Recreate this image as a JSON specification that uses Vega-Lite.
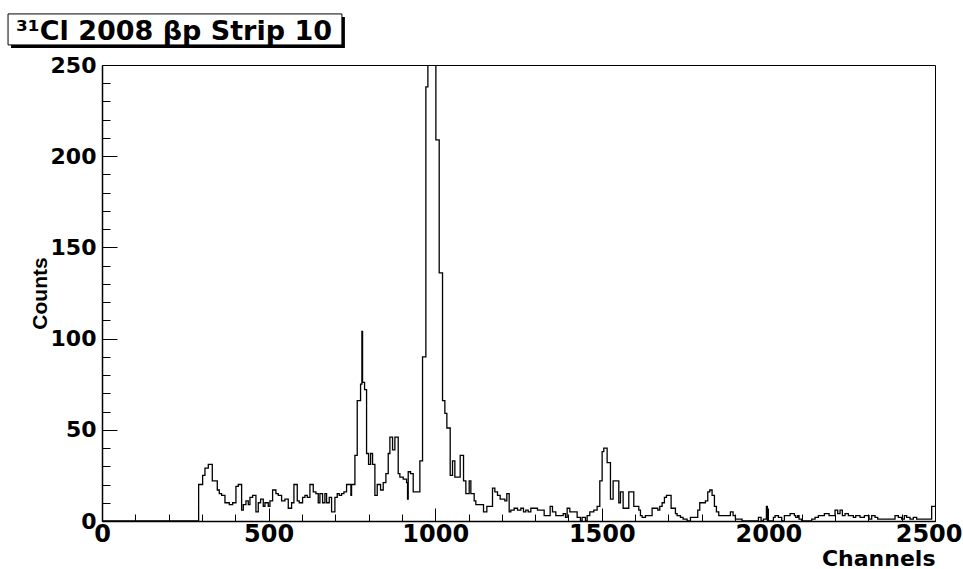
{
  "$schema": "https://vega.github.io/schema/vega-lite/v6.json",
  "width": 833,
  "height": 456,
  "autosize": {"type": "none"},
  "padding": {"left": 102, "top": 65, "right": 28, "bottom": 48},
  "background": "white",
  "config": {"view": {"stroke": "black", "strokeWidth": 1}, "axis": {"grid": false}},
  "data": {"values": [
    {"ch":0,"n":0},{"ch":290,"n":20},{"ch":302,"n":25},{"ch":309,"n":29},{"ch":319,"n":31},{"ch":331,"n":22},{"ch":346,"n":17},{"ch":352,"n":15},{"ch":359,"n":14},{"ch":369,"n":10},{"ch":382,"n":9},{"ch":392,"n":10},{"ch":402,"n":19},{"ch":409,"n":20},{"ch":419,"n":6},{"ch":424,"n":9},{"ch":432,"n":11},{"ch":439,"n":9},{"ch":444,"n":13},{"ch":452,"n":14},{"ch":462,"n":5},{"ch":469,"n":10},{"ch":476,"n":12},{"ch":484,"n":8},{"ch":489,"n":10},{"ch":499,"n":8},{"ch":504,"n":11},{"ch":512,"n":17},{"ch":522,"n":15},{"ch":529,"n":14},{"ch":539,"n":11},{"ch":549,"n":12},{"ch":559,"n":7},{"ch":569,"n":10},{"ch":576,"n":20},{"ch":586,"n":11},{"ch":592,"n":10},{"ch":602,"n":13},{"ch":609,"n":14},{"ch":616,"n":13},{"ch":624,"n":20},{"ch":634,"n":16},{"ch":642,"n":15},{"ch":649,"n":10},{"ch":654,"n":15},{"ch":662,"n":10},{"ch":669,"n":15},{"ch":674,"n":10},{"ch":682,"n":13},{"ch":689,"n":5},{"ch":699,"n":13},{"ch":706,"n":15},{"ch":712,"n":14},{"ch":719,"n":15},{"ch":726,"n":16},{"ch":734,"n":20},{"ch":747,"n":14},{"ch":749,"n":20},{"ch":759,"n":36},{"ch":766,"n":66},{"ch":776,"n":75},{"ch":780,"n":104},{"ch":782,"n":76},{"ch":788,"n":72},{"ch":794,"n":37},{"ch":800,"n":31},{"ch":806,"n":37},{"ch":812,"n":31},{"ch":819,"n":14},{"ch":826,"n":20},{"ch":836,"n":17},{"ch":844,"n":21},{"ch":852,"n":26},{"ch":859,"n":37},{"ch":864,"n":46},{"ch":872,"n":39},{"ch":879,"n":46},{"ch":889,"n":26},{"ch":894,"n":24},{"ch":904,"n":23},{"ch":914,"n":21},{"ch":917,"n":12},{"ch":919,"n":27},{"ch":926,"n":26},{"ch":934,"n":16},{"ch":954,"n":33},{"ch":962,"n":90},{"ch":972,"n":238},{"ch":978,"n":330},{"ch":1002,"n":209},{"ch":1012,"n":136},{"ch":1022,"n":66},{"ch":1029,"n":59},{"ch":1035,"n":51},{"ch":1045,"n":25},{"ch":1052,"n":33},{"ch":1059,"n":24},{"ch":1075,"n":36},{"ch":1085,"n":22},{"ch":1092,"n":15},{"ch":1102,"n":22},{"ch":1107,"n":15},{"ch":1117,"n":11},{"ch":1122,"n":9},{"ch":1145,"n":5},{"ch":1155,"n":8},{"ch":1172,"n":18},{"ch":1179,"n":16},{"ch":1187,"n":14},{"ch":1195,"n":12},{"ch":1209,"n":11},{"ch":1215,"n":15},{"ch":1222,"n":5},{"ch":1227,"n":6},{"ch":1237,"n":7},{"ch":1247,"n":6},{"ch":1257,"n":7},{"ch":1265,"n":5},{"ch":1272,"n":6},{"ch":1279,"n":5},{"ch":1287,"n":7},{"ch":1307,"n":6},{"ch":1327,"n":3},{"ch":1345,"n":8},{"ch":1352,"n":5},{"ch":1362,"n":3},{"ch":1384,"n":4},{"ch":1391,"n":2},{"ch":1396,"n":7},{"ch":1404,"n":5},{"ch":1426,"n":2},{"ch":1436,"n":0},{"ch":1441,"n":2},{"ch":1451,"n":0},{"ch":1456,"n":3},{"ch":1464,"n":5},{"ch":1476,"n":6},{"ch":1486,"n":8},{"ch":1494,"n":22},{"ch":1501,"n":38},{"ch":1506,"n":40},{"ch":1516,"n":32},{"ch":1526,"n":12},{"ch":1534,"n":22},{"ch":1551,"n":10},{"ch":1556,"n":16},{"ch":1564,"n":7},{"ch":1581,"n":16},{"ch":1596,"n":8},{"ch":1611,"n":6},{"ch":1616,"n":3},{"ch":1621,"n":2},{"ch":1631,"n":3},{"ch":1651,"n":7},{"ch":1668,"n":6},{"ch":1674,"n":8},{"ch":1681,"n":10},{"ch":1688,"n":13},{"ch":1694,"n":14},{"ch":1708,"n":7},{"ch":1721,"n":4},{"ch":1726,"n":3},{"ch":1736,"n":2},{"ch":1744,"n":1},{"ch":1756,"n":0},{"ch":1766,"n":2},{"ch":1788,"n":6},{"ch":1794,"n":10},{"ch":1811,"n":11},{"ch":1818,"n":16},{"ch":1824,"n":17},{"ch":1831,"n":14},{"ch":1838,"n":8},{"ch":1844,"n":5},{"ch":1851,"n":3},{"ch":1886,"n":5},{"ch":1894,"n":3},{"ch":1901,"n":1},{"ch":1921,"n":0},{"ch":1970,"n":2},{"ch":1978,"n":0},{"ch":1985,"n":1},{"ch":1994,"n":8},{"ch":1997,"n":0},{"ch":2015,"n":2},{"ch":2020,"n":3},{"ch":2030,"n":2},{"ch":2040,"n":0},{"ch":2048,"n":3},{"ch":2065,"n":4},{"ch":2078,"n":3},{"ch":2082,"n":2},{"ch":2088,"n":3},{"ch":2092,"n":1},{"ch":2100,"n":0},{"ch":2130,"n":1},{"ch":2140,"n":2},{"ch":2150,"n":3},{"ch":2168,"n":4},{"ch":2182,"n":3},{"ch":2200,"n":6},{"ch":2208,"n":4},{"ch":2215,"n":6},{"ch":2222,"n":3},{"ch":2230,"n":4},{"ch":2240,"n":3},{"ch":2255,"n":2},{"ch":2262,"n":3},{"ch":2275,"n":2},{"ch":2288,"n":3},{"ch":2302,"n":1},{"ch":2310,"n":3},{"ch":2320,"n":2},{"ch":2328,"n":1},{"ch":2380,"n":3},{"ch":2390,"n":2},{"ch":2400,"n":1},{"ch":2408,"n":3},{"ch":2415,"n":2},{"ch":2425,"n":1},{"ch":2435,"n":2},{"ch":2445,"n":1},{"ch":2490,"n":8},{"ch":2500,"n":8}
  ]},
  "resolve": {"axis": {"x": "independent", "y": "independent"}},
  "layer": [
    {
      "data": {"values": [{}]},
      "mark": {"type": "rect", "fill": "black"},
      "encoding": {
        "x": {"datum": -273, "type": "quantitative", "scale": {"domain": [0, 2500], "nice": false, "zero": false}, "axis": null},
        "x2": {"datum": 729},
        "y": {"datum": 276.3, "type": "quantitative", "scale": {"domain": [0, 250], "nice": false}, "axis": null},
        "y2": {"datum": 259.3}
      }
    },
    {
      "data": {"values": [{}]},
      "mark": {"type": "rect", "fill": "white", "stroke": "black", "strokeWidth": 1},
      "encoding": {
        "x": {"datum": -282, "type": "quantitative", "scale": {"domain": [0, 2500], "nice": false, "zero": false}, "axis": null},
        "x2": {"datum": 720},
        "y": {"datum": 278, "type": "quantitative", "scale": {"domain": [0, 250], "nice": false}, "axis": null},
        "y2": {"datum": 261}
      }
    },
    {
      "data": {"values": [{"label": "³¹Cl 2008 βp Strip 10"}]},
      "mark": {"type": "text", "align": "left", "baseline": "alphabetic", "font": "DejaVu Sans", "fontWeight": "bold", "fontSize": 27, "color": "black"},
      "encoding": {
        "x": {"datum": -258, "type": "quantitative", "scale": {"domain": [0, 2500], "nice": false, "zero": false}, "axis": null},
        "y": {"datum": 263.7, "type": "quantitative", "scale": {"domain": [0, 250], "nice": false}, "axis": null},
        "text": {"field": "label", "type": "nominal"}
      }
    },
    {
      "mark": {"type": "line", "interpolate": "step-after", "color": "black", "strokeWidth": 1.3, "clip": true},
      "encoding": {
        "x": {"field": "ch", "type": "quantitative", "scale": {"domain": [0, 2500], "nice": false, "zero": false},
          "axis": {"orient": "bottom", "values": [0, 500, 1000, 1500, 2000, 2500], "format": "d", "tickSize": -13, "tickWidth": 1, "tickColor": "black", "domainColor": "black", "domainWidth": 1.5, "labelFont": "DejaVu Sans", "labelFontWeight": "bold", "labelFontSize": 24, "labelColor": "black", "labelPadding": 14.5, "labelFlush": false, "labelOverlap": false, "labelBound": false,
            "labelAlign": {"condition": {"test": "datum.value === 2500", "value": "right"}, "value": "center"},
            "labelOffset": {"condition": {"test": "datum.value === 2500", "value": 27}, "value": 0},
            "title": "Channels", "titleFont": "DejaVu Sans", "titleFontWeight": "bold", "titleFontSize": 22, "titleColor": "black", "titleAnchor": "end", "titleAlign": "right", "titleBaseline": "alphabetic", "titleY": 44}},
        "y": {"field": "n", "type": "quantitative", "scale": {"domain": [0, 250], "nice": false},
          "axis": {"orient": "left", "values": [0, 50, 100, 150, 200, 250], "format": "d", "tickSize": -15, "tickWidth": 1, "tickColor": "black", "domainColor": "black", "domainWidth": 1.5, "labelFont": "DejaVu Sans", "labelFontWeight": "bold", "labelFontSize": 22, "labelColor": "black", "labelPadding": 21, "labelFlush": false, "labelOverlap": false, "labelBound": false, "title": "Counts", "titleFont": "Liberation Sans", "titleFontWeight": "bold", "titleFontSize": 21, "titleColor": "black", "titleBaseline": "alphabetic", "titleX": -56}}
      }
    },
    {
      "mark": {"type": "line", "interpolate": "step-after", "opacity": 0},
      "encoding": {
        "x": {"field": "ch", "type": "quantitative", "scale": {"domain": [0, 2500], "nice": false, "zero": false},
          "axis": {"orient": "bottom", "values": [100, 200, 300, 400, 600, 700, 800, 900, 1100, 1200, 1300, 1400, 1600, 1700, 1800, 1900, 2100, 2200, 2300, 2400], "tickSize": -7, "tickWidth": 1, "tickColor": "black", "labels": false, "domain": false, "title": null}},
        "y": {"field": "n", "type": "quantitative", "scale": {"domain": [0, 250], "nice": false},
          "axis": {"orient": "left", "values": [10, 20, 30, 40, 60, 70, 80, 90, 110, 120, 130, 140, 160, 170, 180, 190, 210, 220, 230, 240], "tickSize": -8, "tickWidth": 1, "tickColor": "black", "labels": false, "domain": false, "title": null}}
      }
    }
  ]
}
